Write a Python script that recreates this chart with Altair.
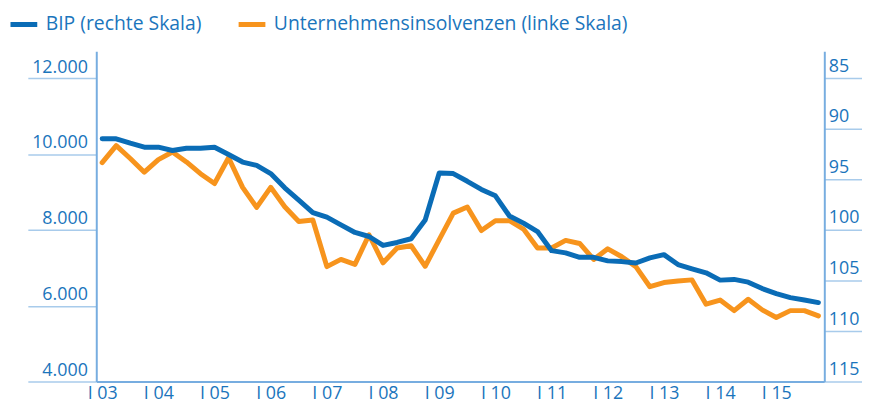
import altair as alt
import pandas as pd

year_labels = ["I 03", "I 04", "I 05", "I 06", "I 07", "I 08", "I 09",
               "I 10", "I 11", "I 12", "I 13", "I 14", "I 15"]

bip = [91.0, 91.0, 91.44, 91.83, 91.83, 92.16, 91.93, 91.93, 91.83, 92.55,
       93.3, 93.63, 94.44, 95.85, 97.06, 98.3, 98.75, 99.51, 100.26, 100.66,
       101.54, 101.25, 100.88, 99.02, 94.38, 94.44, 95.2, 96.01, 96.64, 98.63,
       99.34, 100.17, 102.06, 102.28, 102.72, 102.72, 103.07, 103.14, 103.28, 102.78,
       102.45, 103.43, 103.85, 104.25, 104.97, 104.9, 105.17, 105.81, 106.3, 106.7,
       106.93, 107.19]

insolvenzen = [9770, 10220, 9880, 9520, 9850, 10050, 9790, 9480, 9220, 9900,
               9120, 8590, 9120, 8610, 8220, 8260, 7030, 7220, 7090, 7870,
               7130, 7520, 7580, 7040, 7740, 8440, 8600, 7980, 8240, 8240,
               8020, 7520, 7520, 7720, 7640, 7220, 7500, 7290, 7030, 6500,
               6610, 6650, 6680, 6040, 6150, 5870, 6170, 5890, 5690, 5870,
               5870, 5730]

left_ticks = [4000, 6000, 8000, 10000, 12000]
right_ticks = [85, 90, 95, 100, 105, 110, 115]

BIP_LABEL = "BIP (rechte Skala)"
INS_LABEL = "Unternehmensinsolvenzen (linke Skala)"
BLUE = "#0a6cb6"
ORANGE = "#f7941d"
TEXT = "#1b75bc"
AXIS = "#77ade0"
TICK = "#a8cbeb"
FONT = "Open Sans"

n = len(bip)
df = pd.DataFrame({
    "idx": list(range(n)) * 2,
    "Reihe": [BIP_LABEL] * n + [INS_LABEL] * n,
    "Wert": bip + insolvenzen,
})

label_expr = "[" + ",".join(f"'{s}'" for s in year_labels) + "][datum.value / 4]"

x = alt.X("idx:Q",
          scale=alt.Scale(domain=[-0.42, 51.42], nice=False, zero=False),
          axis=alt.Axis(title=None, values=list(range(0, 49, 4)), labelExpr=label_expr,
                        ticks=False, grid=False, labelPadding=3, labelFlush=False,
                        labelOverlap=False, domainColor=AXIS, domainWidth=2,
                        labelFontSize=18, labelColor=TEXT, labelFont=FONT))

color = alt.Color("Reihe:N",
                  scale=alt.Scale(domain=[BIP_LABEL, INS_LABEL], range=[BLUE, ORANGE]),
                  legend=alt.Legend(title=None, orient="none", legendX=-89, legendY=-43,
                                    direction="horizontal", symbolType="stroke",
                                    symbolSize=729, symbolStrokeWidth=5,
                                    labelFontSize=19.5, labelColor=TEXT, labelFont=FONT,
                                    labelOffset=6, columnPadding=26,
                                    labelLimit=600))

ins_layer = alt.Chart(df).transform_filter(
    alt.datum.Reihe == INS_LABEL
).mark_line(strokeWidth=5, strokeJoin="round", strokeCap="round").encode(
    x=x,
    y=alt.Y("Wert:Q",
            scale=alt.Scale(domain=[4000, 12706], nice=False, zero=False),
            axis=alt.Axis(title=None, orient="left", values=left_ticks,
                          labelExpr="replace(format(datum.value, ','), ',', '.')",
                          grid=False, tickSize=69, tickColor=TICK, tickWidth=1.5,
                          labelPadding=-60, labelOffset=-6, labelBaseline="alphabetic",
                          labelFlush=False, labelOverlap=False,
                          domainColor=AXIS, domainWidth=2,
                          labelFontSize=18, labelColor=TEXT, labelFont=FONT)),
    color=color,
)

bip_layer = alt.Chart(df).transform_filter(
    alt.datum.Reihe == BIP_LABEL
).mark_line(strokeWidth=5, strokeJoin="round", strokeCap="round").encode(
    x=x,
    y=alt.Y("Wert:Q",
            scale=alt.Scale(domain=[82.35, 115], reverse=True, nice=False, zero=False),
            axis=alt.Axis(title=None, orient="right", values=right_ticks,
                          grid=False, tickSize=38, tickColor=TICK, tickWidth=1.5,
                          labelPadding=-34, labelOffset=-7, labelBaseline="alphabetic",
                          labelAlign="left",
                          labelFlush=False, labelOverlap=False,
                          domainColor=AXIS, domainWidth=2,
                          labelFontSize=18, labelColor=TEXT, labelFont=FONT)),
    color=color,
)

chart = alt.layer(ins_layer, bip_layer).resolve_scale(
    y="independent"
).properties(
    width=734, height=333,
    autosize=alt.AutoSizeParams(type="none"),
    padding={"left": 89, "top": 42, "right": 38, "bottom": 24},
).configure_view(stroke=None)

chart.save("out.html", embed_options={"renderer": "svg", "actions": False})
